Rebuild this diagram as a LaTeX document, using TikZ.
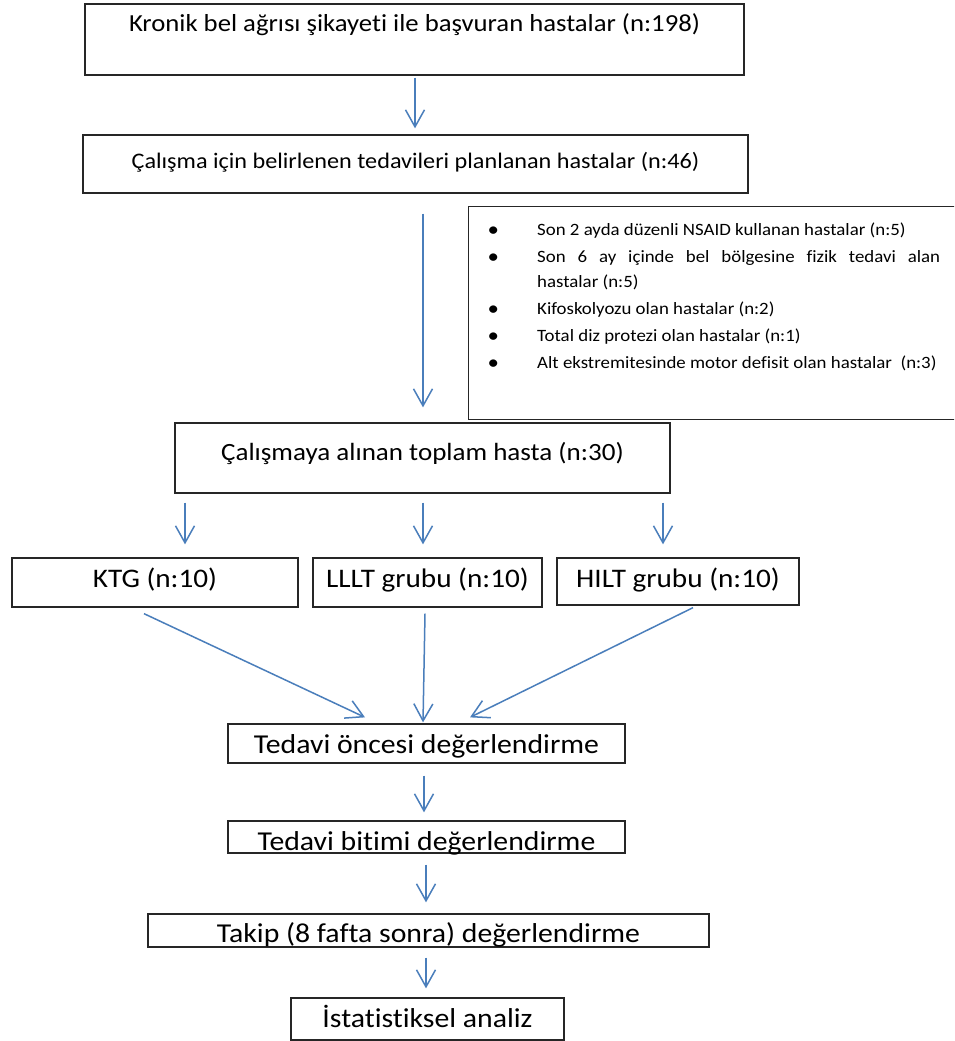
\documentclass[tikz,border=0pt]{standalone}
\usepackage{fontspec}
\setmainfont{Carlito}[FakeStretch=1.09, Ligatures={NoCommon}]
\usetikzlibrary{arrows.meta,calc}
\definecolor{arrblue}{HTML}{4A7EBB}
\newcommand\xbul{\leavevmode\llap{\makebox[0pt]{\raisebox{-1.0pt}{\fontsize{21}{21}\selectfont\textbullet}}\hspace{44pt}}}
\begin{document}
\begin{tikzpicture}[x=1pt,y=-1pt,
  box/.style={draw=black!85, line width=1.3pt, inner sep=0pt, rectangle},
  txt/.style={inner sep=0pt, anchor=base},
  big/.style={font=\fontsize{27.3}{32}\selectfont},
  arr/.style={draw=arrblue, line width=1.5pt, -{Straight Barb[length=17pt,width=19pt]}},
]
\path[use as bounding box, clip] (0,0) rectangle (954,1041);
\fill[white] (0,0) rectangle (954,1041);

% boxes
\node[box, minimum width=659, minimum height=71] (b1) at (414.5,39.5) {};
\node[box, minimum width=665, minimum height=58] (b2) at (415.5,164) {};
\node[box, anchor=north west, minimum width=494, minimum height=213] (x) at (468,206) {};
\node[box, minimum width=495, minimum height=70] (b3) at (422.5,458) {};
\node[box, minimum width=286, minimum height=49] (g1) at (155,582.5) {};
\node[box, minimum width=229, minimum height=49] (g2) at (427.5,582.5) {};
\node[box, minimum width=242, minimum height=47] (g3) at (678,581.5) {};
\node[box, minimum width=397, minimum height=39] (e1) at (426.5,743.5) {};
\node[box, minimum width=397, minimum height=32] (e2) at (426.5,837) {};
\node[box, minimum width=561, minimum height=33] (e3) at (428.5,930.5) {};
\node[box, minimum width=273, minimum height=42] (e4) at (427.5,1019) {};

% texts
\node[txt, font=\fontsize{24.5}{29}\selectfont] (t1) at (414.5,32) {Kronik bel ağrısı şikayeti ile başvuran hastalar (n:198)};
\node[txt, font=\fontsize{22.2}{27}\selectfont] (t2) at (415.5,168) {Çalışma için belirlenen tedavileri planlanan hastalar (n:46)};
\node[txt, font=\fontsize{24.8}{29}\selectfont] (t3) at (422.5,460) {Çalışmaya alınan toplam hasta (n:30)};
\node[txt, font=\fontsize{26.8}{32}\selectfont] (tg1) at (155,587) {KTG (n:10)};
\node[txt, font=\fontsize{26.8}{32}\selectfont] (tg2) at (427.5,587) {LLLT grubu (n:10)};
\node[txt, font=\fontsize{26.8}{32}\selectfont] (tg3) at (678,587) {HILT grubu (n:10)};
\node[txt, big] (te1) at (426.5,753) {Tedavi öncesi değerlendirme};
\node[txt, big] (te2) at (426.5,850) {Tedavi bitimi değerlendirme};
\node[txt, big] (te3) at (428.5,942) {Takip (8 fafta sonra) değerlendirme};
\node[txt, big] (te4) at (427.5,1027) {İstatistiksel analiz};

\node[inner sep=0pt, anchor=base west, text width=403pt, align=justify,
      font=\fontsize{17.3}{25.5}\selectfont] (xl) at (537,235)
{\setlength{\parskip}{1.5pt}%
\xbul Son 2 ayda düzenli NSAID kullanan hastalar (n:5)\par
\xbul Son 6 ay içinde bel bölgesine fizik tedavi alan\linebreak hastalar (n:5)\par
\xbul Kifoskolyozu olan hastalar (n:2)\par
\xbul Total diz protezi olan hastalar (n:1)\par
\xbul Alt ekstremitesinde motor defisit olan hastalar~ (n:3)};

% connectors
\draw[arr] ($(b1.south)+(0.5,2)$) -- ($(b2.north)+(-0.5,-6)$);
\draw[arr] ($(b2.south -| b3.north)+(0.5,20)$) -- ($(b3.north)+(0.5,-15)$);
\draw[arr] ($(b3.south -| g1.north)+(30,9)$) -- ($(g1.north)+(30,-13)$);
\draw[arr] ($(b3.south -| g2.north)+(-4.5,9)$) -- ($(g2.north)+(-4.5,-13)$);
\draw[arr] ($(b3.south -| g3.north)+(-15,9)$) -- ($(g3.north)+(-15,-13)$);
\draw[arr] ($(g1.south)+(-11,6)$) -- ($(e1.north)+(-61.5,-6)$);
\draw[arr] ($(g2.south)+(-2.5,6)$) -- ($(e1.north)+(-3.5,-1)$);
\draw[arr] ($(g3.south)+(15,2)$) -- ($(e1.north)+(43.5,-6)$);
\draw[arr] ($(e1.south)+(-2.5,12)$) -- ($(e2.north)+(-2.5,-8)$);
\draw[arr] ($(e2.south)+(-0.5,11)$) -- ($(e3.north -| e2.south)+(-0.5,-11)$);
\draw[arr] ($(e3.south -| e2.south)+(-0.5,10)$) -- ($(e4.north -| e2.south)+(-0.5,-9)$);
\end{tikzpicture}
\end{document}
